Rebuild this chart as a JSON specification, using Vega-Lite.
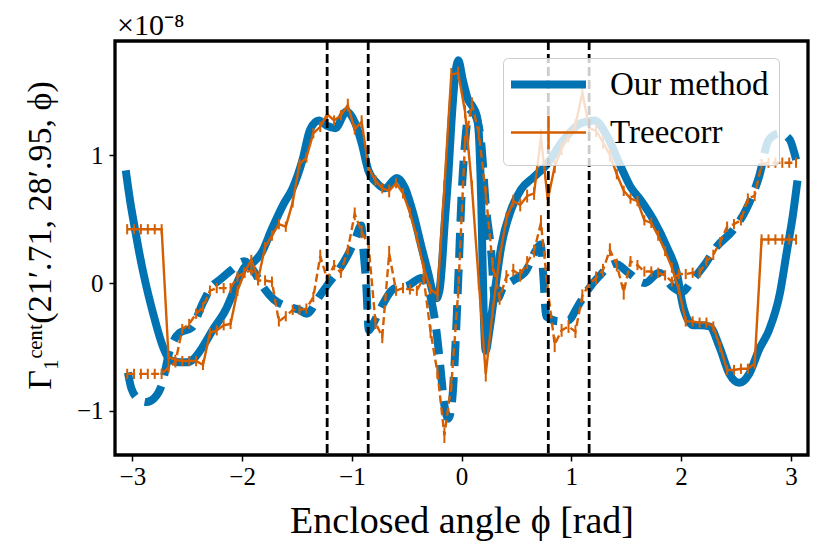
{
  "$schema": "https://vega.github.io/schema/vega-lite/v6.json",
  "autosize": {"type": "none"},
  "width": 693,
  "height": 414,
  "padding": {"left": 115, "top": 41, "right": 15, "bottom": 104},
  "title": {
    "text": "×10⁻⁸",
    "anchor": "start",
    "frame": "group",
    "font": "Liberation Serif",
    "fontSize": 30,
    "fontWeight": "normal",
    "color": "black",
    "baseline": "alphabetic",
    "offset": 6,
    "dx": 2,
    "dy": 31
  },
  "datasets": {
    "bs": [
      {"x": -3.06, "y": 0.88}, {"x": -3.02, "y": 0.64}, {"x": -2.98, "y": 0.44}, {"x": -2.94, "y": 0.25},
      {"x": -2.9, "y": 0.08}, {"x": -2.81, "y": -0.24}, {"x": -2.72, "y": -0.5}, {"x": -2.66, "y": -0.6},
      {"x": -2.57, "y": -0.62}, {"x": -2.5, "y": -0.62}, {"x": -2.45, "y": -0.6}, {"x": -2.36, "y": -0.5},
      {"x": -2.27, "y": -0.37}, {"x": -2.15, "y": -0.21}, {"x": -2.06, "y": -0.03}, {"x": -1.98, "y": 0.12},
      {"x": -1.9, "y": 0.16}, {"x": -1.82, "y": 0.24}, {"x": -1.73, "y": 0.42}, {"x": -1.62, "y": 0.62},
      {"x": -1.54, "y": 0.74}, {"x": -1.45, "y": 0.96}, {"x": -1.38, "y": 1.2}, {"x": -1.3, "y": 1.27},
      {"x": -1.23, "y": 1.23}, {"x": -1.15, "y": 1.21}, {"x": -1.05, "y": 1.34}, {"x": -0.97, "y": 1.25},
      {"x": -0.91, "y": 1.09}, {"x": -0.85, "y": 0.88}, {"x": -0.77, "y": 0.78}, {"x": -0.7, "y": 0.74},
      {"x": -0.59, "y": 0.82}, {"x": -0.52, "y": 0.75}, {"x": -0.44, "y": 0.54}, {"x": -0.365, "y": 0.28},
      {"x": -0.305, "y": 0.08}, {"x": -0.26, "y": -0.08}, {"x": -0.23, "y": -0.12}, {"x": -0.2, "y": -0.05},
      {"x": -0.18, "y": 0.13}, {"x": -0.154, "y": 0.47}, {"x": -0.12, "y": 0.86}, {"x": -0.093, "y": 1.25},
      {"x": -0.063, "y": 1.59}, {"x": -0.03, "y": 1.74}, {"x": 0.01, "y": 1.59}, {"x": 0.06, "y": 1.43},
      {"x": 0.1, "y": 1.38}, {"x": 0.14, "y": 1.3}, {"x": 0.16, "y": 1.12}, {"x": 0.18, "y": 0.6},
      {"x": 0.2, "y": -0.19}, {"x": 0.22, "y": -0.53}, {"x": 0.25, "y": -0.39}, {"x": 0.3, "y": -0.08},
      {"x": 0.36, "y": 0.28}, {"x": 0.45, "y": 0.57}, {"x": 0.54, "y": 0.73}, {"x": 0.66, "y": 0.83},
      {"x": 0.77, "y": 0.92}, {"x": 0.93, "y": 1.12}, {"x": 1.09, "y": 1.25}, {"x": 1.21, "y": 1.27},
      {"x": 1.33, "y": 1.14}, {"x": 1.45, "y": 0.91}, {"x": 1.54, "y": 0.75}, {"x": 1.63, "y": 0.65},
      {"x": 1.75, "y": 0.49}, {"x": 1.87, "y": 0.28}, {"x": 1.96, "y": 0.08}, {"x": 2.02, "y": -0.19},
      {"x": 2.11, "y": -0.33}, {"x": 2.18, "y": -0.33}, {"x": 2.26, "y": -0.34}, {"x": 2.35, "y": -0.5},
      {"x": 2.44, "y": -0.71}, {"x": 2.53, "y": -0.78}, {"x": 2.62, "y": -0.71}, {"x": 2.71, "y": -0.52},
      {"x": 2.8, "y": -0.37}, {"x": 2.9, "y": -0.08}, {"x": 2.96, "y": 0.23}, {"x": 3.02, "y": 0.54},
      {"x": 3.06, "y": 0.8}
    ],
    "bd": [
      {"x": -3.04, "y": -0.7}, {"x": -3.01, "y": -0.82}, {"x": -2.94, "y": -0.91}, {"x": -2.87, "y": -0.93},
      {"x": -2.8, "y": -0.9}, {"x": -2.73, "y": -0.79}, {"x": -2.66, "y": -0.53}, {"x": -2.57, "y": -0.39},
      {"x": -2.46, "y": -0.35}, {"x": -2.36, "y": -0.16}, {"x": -2.27, "y": -0.02}, {"x": -2.21, "y": 0.02},
      {"x": -2.1, "y": 0.1}, {"x": -1.98, "y": 0.17}, {"x": -1.9, "y": 0.1}, {"x": -1.81, "y": -0.03},
      {"x": -1.71, "y": -0.13}, {"x": -1.6, "y": -0.18}, {"x": -1.48, "y": -0.21}, {"x": -1.41, "y": -0.24},
      {"x": -1.3, "y": -0.11}, {"x": -1.21, "y": 0.0}, {"x": -1.12, "y": 0.1}, {"x": -1.03, "y": 0.23},
      {"x": -0.97, "y": 0.34}, {"x": -0.915, "y": 0.45}, {"x": -0.895, "y": 0.26}, {"x": -0.87, "y": 0.0},
      {"x": -0.845, "y": -0.37}, {"x": -0.82, "y": -0.34}, {"x": -0.73, "y": -0.185}, {"x": -0.61, "y": -0.04},
      {"x": -0.49, "y": -0.02}, {"x": -0.365, "y": 0.04}, {"x": -0.27, "y": -0.16}, {"x": -0.23, "y": -0.37},
      {"x": -0.2, "y": -0.6}, {"x": -0.154, "y": -0.97}, {"x": -0.12, "y": -1.06}, {"x": -0.09, "y": -0.95},
      {"x": -0.063, "y": -0.61}, {"x": -0.03, "y": 0.04}, {"x": 0.0, "y": 0.69}, {"x": 0.03, "y": 1.08},
      {"x": 0.06, "y": 1.3}, {"x": 0.1, "y": 1.33}, {"x": 0.14, "y": 1.28}, {"x": 0.18, "y": 1.08},
      {"x": 0.22, "y": 0.61}, {"x": 0.27, "y": 0.24}, {"x": 0.3, "y": -0.1}, {"x": 0.33, "y": -0.12},
      {"x": 0.37, "y": -0.05}, {"x": 0.47, "y": 0.02}, {"x": 0.59, "y": 0.1}, {"x": 0.68, "y": 0.26},
      {"x": 0.72, "y": 0.3}, {"x": 0.745, "y": 0.05}, {"x": 0.77, "y": -0.26}, {"x": 0.89, "y": -0.3},
      {"x": 0.98, "y": -0.29}, {"x": 1.04, "y": -0.21}, {"x": 1.13, "y": -0.08}, {"x": 1.25, "y": 0.05},
      {"x": 1.4, "y": 0.15}, {"x": 1.52, "y": 0.08}, {"x": 1.67, "y": 0.0}, {"x": 1.8, "y": 0.08},
      {"x": 1.92, "y": -0.03}, {"x": 2.01, "y": -0.07}, {"x": 2.1, "y": 0.02}, {"x": 2.22, "y": 0.15},
      {"x": 2.32, "y": 0.28}, {"x": 2.47, "y": 0.41}, {"x": 2.59, "y": 0.57}, {"x": 2.71, "y": 0.83},
      {"x": 2.8, "y": 1.12}, {"x": 2.9, "y": 1.17}, {"x": 2.99, "y": 1.12}, {"x": 3.03, "y": 1.02},
      {"x": 3.06, "y": 0.92}
    ],
    "os": [
      {"x": -3.047, "y": 0.42, "e": 0.04}, {"x": -2.985, "y": 0.42, "e": 0.04}, {"x": -2.922, "y": 0.42, "e": 0.04},
      {"x": -2.859, "y": 0.42, "e": 0.04}, {"x": -2.796, "y": 0.42, "e": 0.04}, {"x": -2.733, "y": 0.42, "e": 0.04},
      {"x": -2.67, "y": -0.58, "e": 0.04}, {"x": -2.608, "y": -0.6, "e": 0.04}, {"x": -2.545, "y": -0.61, "e": 0.04},
      {"x": -2.482, "y": -0.61, "e": 0.04}, {"x": -2.419, "y": -0.61, "e": 0.04}, {"x": -2.356, "y": -0.64, "e": 0.04},
      {"x": -2.293, "y": -0.39, "e": 0.04}, {"x": -2.231, "y": -0.37, "e": 0.04}, {"x": -2.168, "y": -0.33, "e": 0.04},
      {"x": -2.105, "y": -0.32, "e": 0.04}, {"x": -2.042, "y": -0.06, "e": 0.04}, {"x": -1.979, "y": 0.08, "e": 0.04},
      {"x": -1.916, "y": 0.18, "e": 0.04}, {"x": -1.854, "y": 0.03, "e": 0.04}, {"x": -1.791, "y": 0.28, "e": 0.04},
      {"x": -1.728, "y": 0.37, "e": 0.04}, {"x": -1.665, "y": 0.46, "e": 0.04}, {"x": -1.602, "y": 0.44, "e": 0.04},
      {"x": -1.539, "y": 0.63, "e": 0.04}, {"x": -1.477, "y": 0.93, "e": 0.04}, {"x": -1.414, "y": 0.98, "e": 0.04},
      {"x": -1.351, "y": 1.17, "e": 0.04}, {"x": -1.288, "y": 1.22, "e": 0.04}, {"x": -1.225, "y": 1.32, "e": 0.04},
      {"x": -1.162, "y": 1.27, "e": 0.04}, {"x": -1.1, "y": 1.31, "e": 0.04}, {"x": -1.037, "y": 1.39, "e": 0.05},
      {"x": -0.974, "y": 1.2, "e": 0.04}, {"x": -0.911, "y": 1.26, "e": 0.05}, {"x": -0.848, "y": 0.9, "e": 0.04},
      {"x": -0.785, "y": 0.8, "e": 0.04}, {"x": -0.723, "y": 0.74, "e": 0.04}, {"x": -0.66, "y": 0.72, "e": 0.05},
      {"x": -0.597, "y": 0.78, "e": 0.04}, {"x": -0.534, "y": 0.7, "e": 0.04}, {"x": -0.471, "y": 0.55, "e": 0.04},
      {"x": -0.408, "y": 0.36, "e": 0.04}, {"x": -0.346, "y": 0.12, "e": 0.04}, {"x": -0.283, "y": -0.05, "e": 0.04},
      {"x": -0.22, "y": -0.09, "e": 0.05}, {"x": -0.157, "y": 0.75, "e": 0.05}, {"x": -0.094, "y": 1.63, "e": 0.05},
      {"x": -0.031, "y": 1.64, "e": 0.05}, {"x": 0.031, "y": 1.34, "e": 0.05}, {"x": 0.094, "y": 0.75, "e": 0.05},
      {"x": 0.157, "y": 0.0, "e": 0.05}, {"x": 0.22, "y": -0.71, "e": 0.06}, {"x": 0.283, "y": -0.22, "e": 0.05},
      {"x": 0.346, "y": 0.2, "e": 0.05}, {"x": 0.408, "y": 0.5, "e": 0.05}, {"x": 0.471, "y": 0.64, "e": 0.05},
      {"x": 0.534, "y": 0.61, "e": 0.05}, {"x": 0.597, "y": 0.68, "e": 0.05}, {"x": 0.66, "y": 0.7, "e": 0.05},
      {"x": 0.723, "y": 1.14, "e": 0.06}, {"x": 0.785, "y": 0.65, "e": 0.05}, {"x": 0.848, "y": 0.91, "e": 0.05},
      {"x": 0.911, "y": 1.05, "e": 0.05}, {"x": 0.974, "y": 1.15, "e": 0.05}, {"x": 1.037, "y": 1.23, "e": 0.05},
      {"x": 1.1, "y": 1.49, "e": 0.06}, {"x": 1.162, "y": 1.21, "e": 0.05}, {"x": 1.225, "y": 1.19, "e": 0.05},
      {"x": 1.288, "y": 1.1, "e": 0.05}, {"x": 1.351, "y": 1.0, "e": 0.05}, {"x": 1.414, "y": 0.85, "e": 0.04},
      {"x": 1.477, "y": 0.72, "e": 0.04}, {"x": 1.539, "y": 0.66, "e": 0.04}, {"x": 1.602, "y": 0.64, "e": 0.04},
      {"x": 1.665, "y": 0.49, "e": 0.04}, {"x": 1.728, "y": 0.47, "e": 0.04}, {"x": 1.791, "y": 0.37, "e": 0.04},
      {"x": 1.854, "y": 0.25, "e": 0.04}, {"x": 1.916, "y": 0.12, "e": 0.04}, {"x": 1.979, "y": -0.05, "e": 0.04},
      {"x": 2.042, "y": -0.3, "e": 0.04}, {"x": 2.105, "y": -0.3, "e": 0.04}, {"x": 2.168, "y": -0.31, "e": 0.04},
      {"x": 2.231, "y": -0.31, "e": 0.04}, {"x": 2.293, "y": -0.34, "e": 0.04}, {"x": 2.356, "y": -0.5, "e": 0.04},
      {"x": 2.419, "y": -0.68, "e": 0.04}, {"x": 2.482, "y": -0.68, "e": 0.04}, {"x": 2.545, "y": -0.67, "e": 0.04},
      {"x": 2.608, "y": -0.67, "e": 0.04}, {"x": 2.67, "y": -0.63, "e": 0.04}, {"x": 2.733, "y": 0.34, "e": 0.04},
      {"x": 2.796, "y": 0.34, "e": 0.04}, {"x": 2.859, "y": 0.34, "e": 0.04}, {"x": 2.922, "y": 0.34, "e": 0.04},
      {"x": 2.985, "y": 0.34, "e": 0.04}, {"x": 3.047, "y": 0.34, "e": 0.04}
    ],
    "od": [
      {"x": -3.047, "y": -0.71, "e": 0.04}, {"x": -2.985, "y": -0.71, "e": 0.04}, {"x": -2.922, "y": -0.71, "e": 0.04},
      {"x": -2.859, "y": -0.71, "e": 0.04}, {"x": -2.796, "y": -0.71, "e": 0.04}, {"x": -2.733, "y": -0.71, "e": 0.04},
      {"x": -2.67, "y": -0.66, "e": 0.04}, {"x": -2.608, "y": -0.62, "e": 0.04}, {"x": -2.545, "y": -0.36, "e": 0.04},
      {"x": -2.482, "y": -0.32, "e": 0.04}, {"x": -2.419, "y": -0.24, "e": 0.04}, {"x": -2.356, "y": -0.19, "e": 0.04},
      {"x": -2.293, "y": -0.06, "e": 0.04}, {"x": -2.231, "y": -0.04, "e": 0.04}, {"x": -2.168, "y": -0.04, "e": 0.04},
      {"x": -2.105, "y": -0.04, "e": 0.04}, {"x": -2.042, "y": 0.05, "e": 0.04}, {"x": -1.979, "y": 0.08, "e": 0.04},
      {"x": -1.916, "y": 0.1, "e": 0.04}, {"x": -1.854, "y": 0.02, "e": 0.04}, {"x": -1.791, "y": 0.02, "e": 0.04},
      {"x": -1.728, "y": 0.01, "e": 0.04}, {"x": -1.665, "y": -0.3, "e": 0.04}, {"x": -1.602, "y": -0.26, "e": 0.04},
      {"x": -1.539, "y": -0.21, "e": 0.04}, {"x": -1.477, "y": -0.21, "e": 0.04}, {"x": -1.414, "y": -0.2, "e": 0.04},
      {"x": -1.351, "y": -0.11, "e": 0.04}, {"x": -1.288, "y": 0.21, "e": 0.05}, {"x": -1.225, "y": 0.03, "e": 0.04},
      {"x": -1.162, "y": 0.14, "e": 0.04}, {"x": -1.1, "y": 0.08, "e": 0.04}, {"x": -1.037, "y": 0.26, "e": 0.04},
      {"x": -0.974, "y": 0.54, "e": 0.05}, {"x": -0.911, "y": 0.4, "e": 0.05}, {"x": -0.848, "y": 0.3, "e": 0.05},
      {"x": -0.785, "y": -0.31, "e": 0.05}, {"x": -0.723, "y": -0.42, "e": 0.05}, {"x": -0.66, "y": 0.23, "e": 0.06},
      {"x": -0.597, "y": -0.06, "e": 0.04}, {"x": -0.534, "y": -0.04, "e": 0.04}, {"x": -0.471, "y": -0.05, "e": 0.04},
      {"x": -0.408, "y": -0.06, "e": 0.04}, {"x": -0.346, "y": 0.04, "e": 0.04}, {"x": -0.283, "y": -0.38, "e": 0.05},
      {"x": -0.22, "y": -0.7, "e": 0.05}, {"x": -0.157, "y": -1.19, "e": 0.06}, {"x": -0.094, "y": -0.8, "e": 0.05},
      {"x": -0.031, "y": -0.07, "e": 0.05}, {"x": 0.031, "y": 1.1, "e": 0.05}, {"x": 0.094, "y": 1.4, "e": 0.05},
      {"x": 0.157, "y": 1.17, "e": 0.05}, {"x": 0.22, "y": 0.7, "e": 0.05}, {"x": 0.283, "y": 0.14, "e": 0.05},
      {"x": 0.346, "y": -0.12, "e": 0.05}, {"x": 0.408, "y": 0.05, "e": 0.05}, {"x": 0.471, "y": 0.1, "e": 0.05},
      {"x": 0.534, "y": 0.06, "e": 0.05}, {"x": 0.597, "y": 0.16, "e": 0.05}, {"x": 0.66, "y": 0.25, "e": 0.05},
      {"x": 0.723, "y": 0.47, "e": 0.06}, {"x": 0.785, "y": -0.05, "e": 0.05}, {"x": 0.848, "y": -0.48, "e": 0.06},
      {"x": 0.911, "y": -0.37, "e": 0.05}, {"x": 0.974, "y": -0.34, "e": 0.05}, {"x": 1.037, "y": -0.38, "e": 0.05},
      {"x": 1.1, "y": -0.1, "e": 0.05}, {"x": 1.162, "y": -0.01, "e": 0.05}, {"x": 1.225, "y": 0.04, "e": 0.05},
      {"x": 1.288, "y": 0.1, "e": 0.05}, {"x": 1.351, "y": 0.26, "e": 0.05}, {"x": 1.414, "y": 0.14, "e": 0.05},
      {"x": 1.477, "y": -0.07, "e": 0.06}, {"x": 1.539, "y": 0.17, "e": 0.04}, {"x": 1.602, "y": 0.14, "e": 0.04},
      {"x": 1.665, "y": 0.09, "e": 0.04}, {"x": 1.728, "y": 0.09, "e": 0.04}, {"x": 1.791, "y": 0.08, "e": 0.04},
      {"x": 1.854, "y": 0.06, "e": 0.04}, {"x": 1.916, "y": 0.01, "e": 0.04}, {"x": 1.979, "y": 0.07, "e": 0.04},
      {"x": 2.042, "y": 0.07, "e": 0.04}, {"x": 2.105, "y": 0.08, "e": 0.04}, {"x": 2.168, "y": 0.08, "e": 0.04},
      {"x": 2.231, "y": 0.17, "e": 0.04}, {"x": 2.293, "y": 0.22, "e": 0.04}, {"x": 2.356, "y": 0.32, "e": 0.04},
      {"x": 2.419, "y": 0.44, "e": 0.04}, {"x": 2.482, "y": 0.46, "e": 0.04}, {"x": 2.545, "y": 0.49, "e": 0.04},
      {"x": 2.608, "y": 0.66, "e": 0.04}, {"x": 2.67, "y": 0.68, "e": 0.04}, {"x": 2.733, "y": 0.93, "e": 0.04},
      {"x": 2.796, "y": 0.94, "e": 0.04}, {"x": 2.859, "y": 0.94, "e": 0.04}, {"x": 2.922, "y": 0.94, "e": 0.04},
      {"x": 2.985, "y": 0.94, "e": 0.04}, {"x": 3.047, "y": 0.94, "e": 0.04}
    ],
    "vl": [{"x": -1.225}, {"x": -0.851}, {"x": 0.79}, {"x": 1.162}]
  },
  "encoding": {
    "x": {
      "field": "x",
      "type": "quantitative",
      "title": "Enclosed angle ϕ [rad]",
      "scale": {"domain": [-3.158, 3.156], "nice": false, "zero": false},
      "axis": {
        "values": [-3, -2, -1, 0, 1, 2, 3],
        "format": "d",
        "titleY": 77,
        "titleBaseline": "alphabetic",
        "labelPadding": 3
      }
    }
  },
  "layer": [
    {
      "data": {"name": "bs"},
      "mark": {"type": "line", "strokeWidth": 8, "interpolate": "monotone", "clip": true},
      "encoding": {
        "y": {
          "field": "y",
          "type": "quantitative",
          "title": "Γ₁ᶜᵉⁿᵗ(21′.71, 28′.95, ϕ)",
          "scale": {"domain": [-1.344, 1.891], "nice": false, "zero": false},
          "axis": {
            "values": [-1, 0, 1],
            "format": "d",
            "titleFontSize": 34,
            "titleX": -65,
            "titleY": 194,
            "titleBaseline": "alphabetic",
            "labelPadding": 6
          }
        },
        "color": {
          "datum": "Our method",
          "scale": {"domain": ["Our method", "Treecorr"], "range": ["#0173B2", "#D55E00"]},
          "legend": {
            "title": null,
            "orient": "none",
            "legendX": 388,
            "legendY": 17,
            "padding": 10,
            "fillColor": "rgba(255,255,255,0.8)",
            "strokeColor": "#cccccc",
            "cornerRadius": 5,
            "labelFont": "Liberation Serif",
            "labelFontSize": 33,
            "labelColor": "black",
            "symbolType": {"expr": "datum.value == 'Our method' ? 'M-2,0H2' : 'M-2,0H2M0,-0.9V0.9'"},
            "symbolStrokeWidth": {"expr": "datum.value == 'Our method' ? 8 : 2.5"},
            "symbolSize": 1406,
            "symbolOffset": 19,
            "labelOffset": 45,
            "rowPadding": 8,
            "zindex": 1
          }
        }
      }
    },
    {
      "data": {"name": "bd"},
      "mark": {"type": "line", "strokeWidth": 8, "strokeDash": [25, 11], "interpolate": "monotone", "clip": true},
      "encoding": {
        "y": {"field": "y", "type": "quantitative", "title": "Γ₁ᶜᵉⁿᵗ(21′.71, 28′.95, ϕ)"},
        "color": {"datum": "Our method"}
      }
    },
    {
      "data": {"name": "os"},
      "mark": {"type": "line", "strokeWidth": 2.4, "clip": true},
      "encoding": {
        "y": {"field": "y", "type": "quantitative", "title": "Γ₁ᶜᵉⁿᵗ(21′.71, 28′.95, ϕ)"},
        "color": {"datum": "Treecorr"}
      }
    },
    {
      "data": {"name": "os"},
      "mark": {"type": "errorbar", "color": "#D55E00", "thickness": 2, "clip": true},
      "encoding": {
        "y": {"field": "y", "type": "quantitative", "title": "Γ₁ᶜᵉⁿᵗ(21′.71, 28′.95, ϕ)"},
        "yError": {"field": "e"}
      }
    },
    {
      "data": {"name": "od"},
      "mark": {"type": "line", "strokeWidth": 2.4, "strokeDash": [8, 4], "clip": true},
      "encoding": {
        "y": {"field": "y", "type": "quantitative", "title": "Γ₁ᶜᵉⁿᵗ(21′.71, 28′.95, ϕ)"},
        "color": {"datum": "Treecorr"}
      }
    },
    {
      "data": {"name": "od"},
      "mark": {"type": "errorbar", "color": "#D55E00", "thickness": 2, "clip": true},
      "encoding": {
        "y": {"field": "y", "type": "quantitative", "title": "Γ₁ᶜᵉⁿᵗ(21′.71, 28′.95, ϕ)"},
        "yError": {"field": "e"}
      }
    },
    {
      "data": {"name": "vl"},
      "mark": {"type": "rule", "color": "black", "strokeWidth": 2.8, "strokeDash": [9, 4]},
      "encoding": {}
    }
  ],
  "config": {
    "font": "Liberation Serif",
    "view": {"stroke": "black", "strokeWidth": 3.3},
    "axis": {
      "domain": false,
      "grid": false,
      "tickColor": "black",
      "tickWidth": 1.5,
      "tickSize": 6,
      "labelFont": "Liberation Serif",
      "labelFontSize": 25,
      "labelColor": "black",
      "titleFont": "Liberation Serif",
      "titleFontSize": 38,
      "titleFontWeight": "normal",
      "titleColor": "black"
    }
  }
}
